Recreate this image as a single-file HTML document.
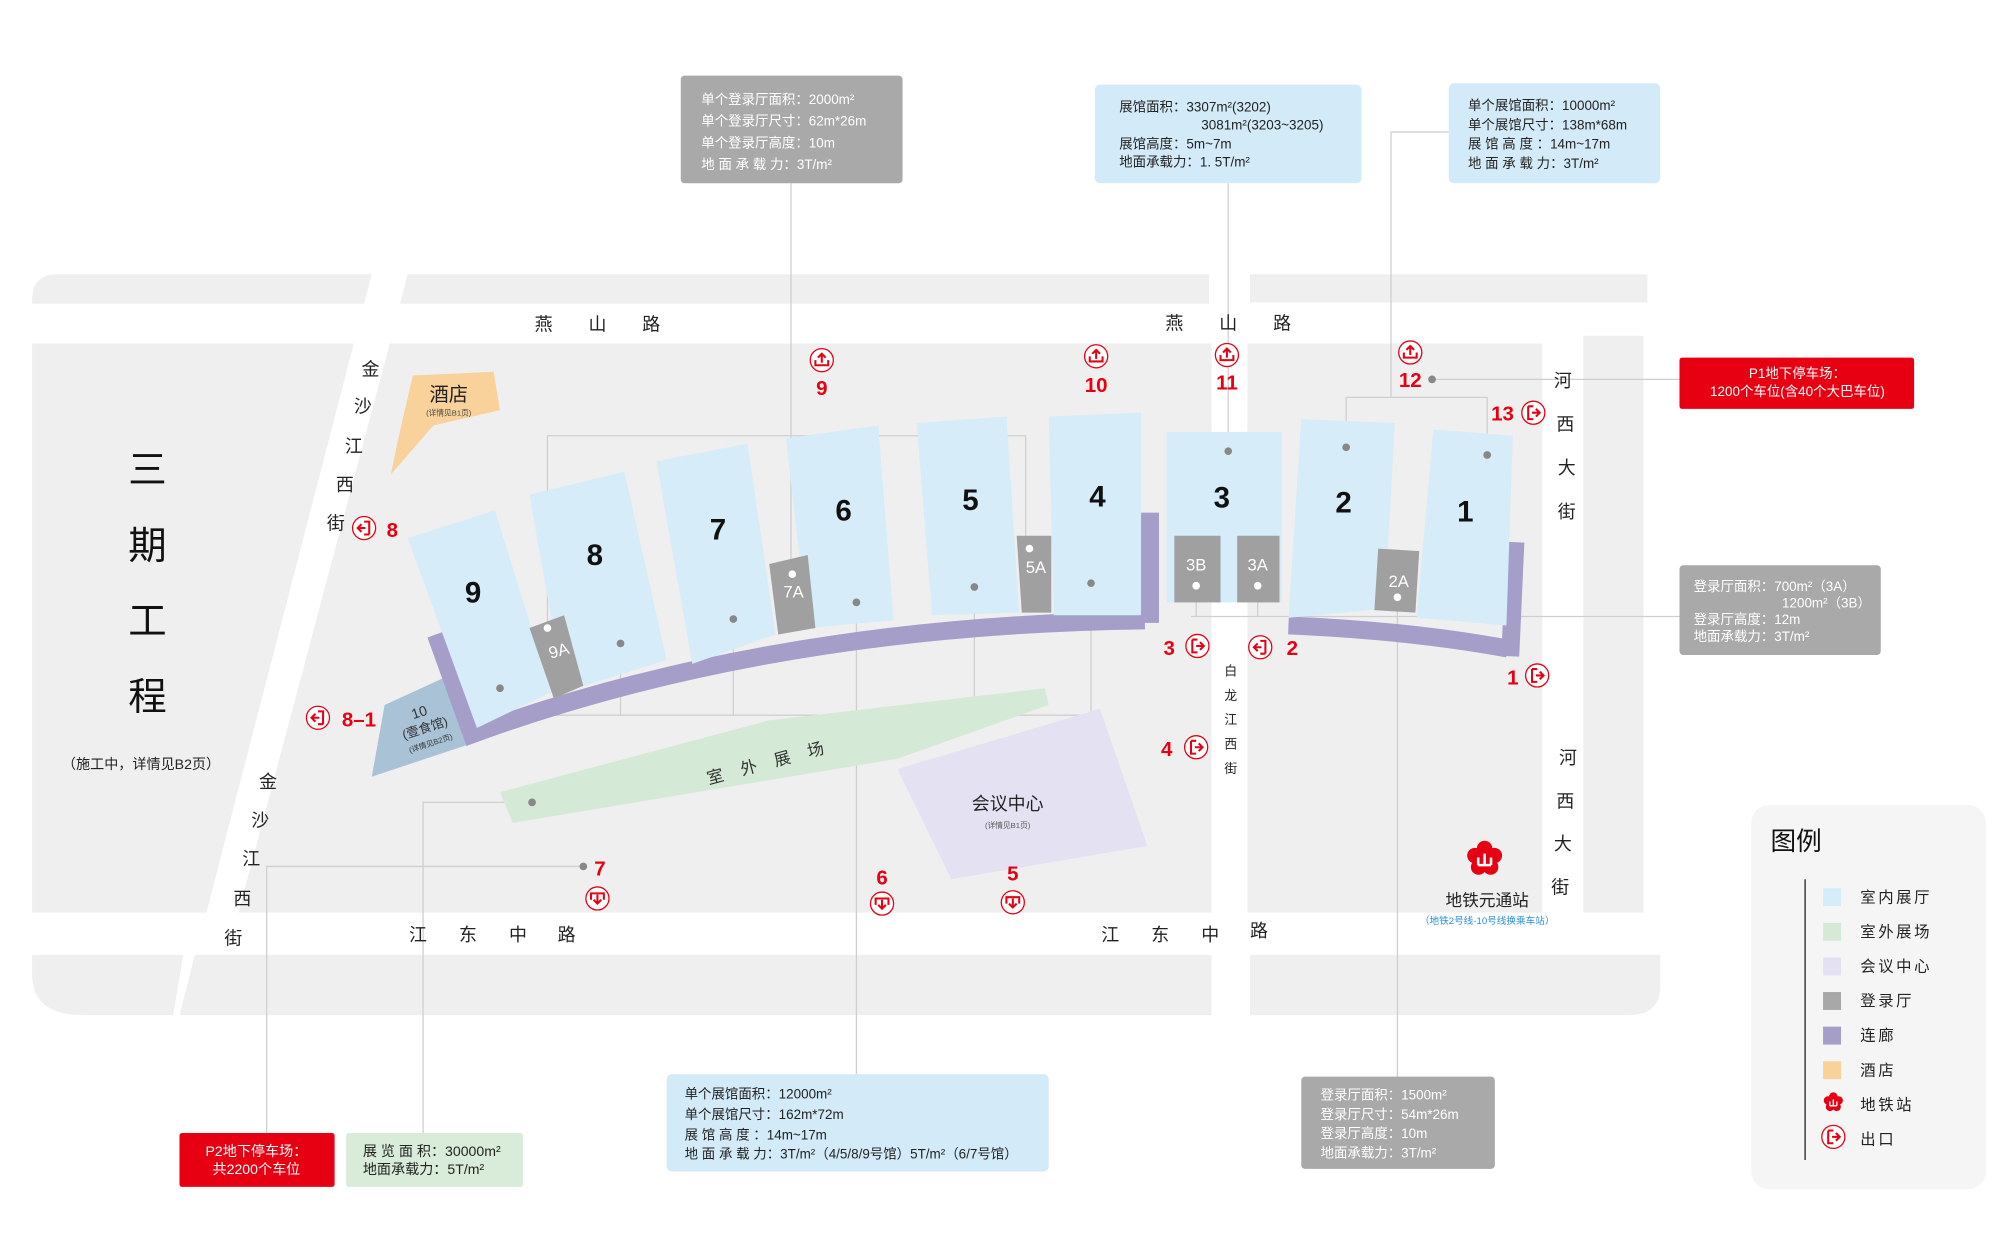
<!DOCTYPE html>
<html><head><meta charset="utf-8"><style>
html,body{margin:0;padding:0;background:#fff;}
svg{display:block;}
text{font-family:"Liberation Sans","Noto Sans CJK SC",sans-serif;}
</style></head><body>
<svg width="2000" height="1233" viewBox="0 0 1560 962" preserveAspectRatio="none" xmlns="http://www.w3.org/2000/svg">
<defs>
<g id="ex"><circle r="9" fill="#fff" stroke="#e60012" stroke-width="1"/><path d="M-4,-5 h4 M-4,-5 v10 h4" stroke="#e60012" stroke-width="1.6" fill="none"/><path d="M-1,0 h5 M2,-3 l3,3 -3,3" stroke="#e60012" stroke-width="1.6" fill="none"/></g>
<g id="up"><circle r="9" fill="#fff" stroke="#e60012" stroke-width="1"/><path d="M-5,0 v4 h10 v-4" stroke="#e60012" stroke-width="1.6" fill="none"/><path d="M0,2 v-7 M-3,-2 l3,-3 3,3" stroke="#e60012" stroke-width="1.6" fill="none"/></g>
<g id="dn"><circle r="9" fill="#fff" stroke="#e60012" stroke-width="1"/><path d="M-5,1 v-5 h10 v5" stroke="#e60012" stroke-width="1.6" fill="none"/><path d="M0,-3 v7 M-3,1 l3,3 3,-3" stroke="#e60012" stroke-width="1.6" fill="none"/></g>
</defs>
<!-- ground -->
<g fill="#efefef">
<path d="M45,214 L290,214 L284,237 L25,237 L25,234 Q25,214 45,214Z"/>
<polygon points="318,214 943,214 943,237 312,237"/>
<rect x="975" y="214" width="310" height="22"/>
<polygon points="25,268 276,268 161,712 25,712"/>
<polygon points="304,268 945,268 945,712 186,712"/>
<polygon points="973,268 1203,268 1203,712 973,712"/>
<rect x="1235" y="262" width="47" height="450"/>
<path d="M25,745 L143,745 L135,792 L65,792 Q25,792 25,760Z"/>
<polygon points="152,745 945,745 945,792 140,792"/>
<path d="M975,745 L1295,745 L1295,770 Q1295,792 1270,792 L975,792Z"/>
</g>
<!-- connector lines -->
<g stroke="#cfcfcf" stroke-width="1" fill="none">
<path d="M427,490 V340 H800 V425"/>
<path d="M617,143 V448"/>
<path d="M390,537 V558 M484,502 V558 M572,483 V558 M760,458 V558 M851,455 V558 M425,558 H851"/>
<path d="M668,470 V838"/>
<path d="M415,626 H330 V885"/>
<path d="M455,676 H208 V885"/>
<path d="M958,143 V352"/>
<path d="M1130,103 H1085 V310 M1050,349 V310 H1160 V355"/>
<path d="M1117,296 H1310"/>
<path d="M933,457 V481 M981,457 V481 M929,481 H1310"/>
<path d="M1090,466 V840"/>
</g>
<!-- hotel -->
<polygon points="322,293 385,290 390,320 338,332 305,370 310,345" fill="#f8d29a"/>
<text x="350" y="313" font-size="15" text-anchor="middle" fill="#222">酒店</text>
<text x="350" y="324" font-size="6" text-anchor="middle" fill="#444">(详情见B1页)</text>
<!-- outdoor -->
<polygon points="390,618 600,562 815,537 818,550 700,592 400,642" fill="#d5ead6"/>
<text x="605" y="598" font-size="13" text-anchor="middle" fill="#333" letter-spacing="14" transform="rotate(-15 605 598)">室外展场</text>
<!-- meeting -->
<polygon points="700,600 858,553 895,660 742,686" fill="#e4e2f2"/>
<text x="786" y="632" font-size="14" text-anchor="middle" fill="#222">会议中心</text>
<text x="786" y="646" font-size="6" text-anchor="middle" fill="#555">(详情见B1页)</text>
<!-- hall 10 -->
<polygon points="300,550 348,528 368,580 290,606" fill="#a9c2d6"/>
<text x="330" y="559" font-size="11" text-anchor="middle" fill="#333" transform="rotate(-18 330 565)">10</text>
<text x="332" y="572" font-size="10" text-anchor="middle" fill="#333" transform="rotate(-18 330 570)">(壹食馆)</text>
<text x="336" y="582" font-size="6" text-anchor="middle" fill="#333" transform="rotate(-18 336 580)">(详情见B2页)</text>
<!-- corridor -->
<g fill="none" stroke="#a49ec9" stroke-width="14">
<path d="M340,495 L368,573 Q600,488 893,484"/>
<path d="M897,400 V486"/>
<path d="M1005,488 Q1100,492 1176,506"/>
<path d="M1182,423 L1178,512"/>
</g>
<!-- halls -->
<g fill="#d6ecf8">
<polygon points="318,420 386,398 430,540 372,568"/>
<polygon points="413,386 487,368 520,515 440,540"/>
<polygon points="512,360 583,346 605,495 540,518"/>
<polygon points="613,342 685,332 697,484 630,490"/>
<polygon points="715,330 785,325 795,478 727,480"/>
<polygon points="818,325 890,322 890,480 822,480"/>
<rect x="910" y="337" width="90" height="133"/>
<polygon points="1015,327 1088,330 1080,475 1005,482"/>
<polygon points="1118,335 1180,340 1175,488 1105,482"/>
</g>
<g fill="#a0a0a0">
<polygon points="413,490 440,480 455,535 432,545"/>
<polygon points="600,440 630,433 636,490 607,495"/>
<polygon points="793,418 820,418 820,478 797,478"/>
<rect x="916" y="418" width="36" height="52"/>
<rect x="965" y="418" width="33" height="52"/>
<polygon points="1075,428 1107,430 1104,478 1072,476"/>
</g>
<g font-size="13" fill="#fff" text-anchor="middle">
<text x="436" y="512" transform="rotate(-15 436 508)">9A</text>
<text x="619" y="466">7A</text>
<text x="808" y="447">5A</text>
<text x="933" y="445">3B</text>
<text x="981" y="445">3A</text>
<text x="1091" y="458">2A</text>
</g>
<g fill="#fff"><circle cx="427" cy="490" r="3"/><circle cx="618" cy="448" r="3"/><circle cx="803" cy="428" r="3"/><circle cx="933" cy="457" r="3"/><circle cx="981" cy="457" r="3"/><circle cx="1090" cy="466" r="3"/></g>
<g fill="#888"><circle cx="390" cy="537" r="3"/><circle cx="484" cy="502" r="3"/><circle cx="572" cy="483" r="3"/><circle cx="668" cy="470" r="3"/><circle cx="760" cy="458" r="3"/><circle cx="851" cy="455" r="3"/><circle cx="958" cy="352" r="3"/><circle cx="1050" cy="349" r="3"/><circle cx="1160" cy="355" r="3"/><circle cx="415" cy="626" r="3"/><circle cx="455" cy="676" r="3"/><circle cx="1117" cy="296" r="3"/></g>
<g font-size="23" font-weight="bold" fill="#111" text-anchor="middle">
<text x="369" y="470">9</text><text x="464" y="441">8</text><text x="560" y="421">7</text><text x="658" y="406">6</text><text x="757" y="398">5</text><text x="856" y="395">4</text><text x="953" y="396">3</text><text x="1048" y="400">2</text><text x="1143" y="407">1</text>
</g>
<!-- road labels -->
<g font-size="14" fill="#222" text-anchor="middle">
<text x="424" y="258">燕</text><text x="466" y="258">山</text><text x="508" y="258">路</text>
<text x="916" y="257">燕</text><text x="958" y="257">山</text><text x="1000" y="257">路</text>
<text x="326" y="734">江</text><text x="365" y="734">东</text><text x="404" y="734">中</text><text x="442" y="734">路</text>
<text x="866" y="734">江</text><text x="905" y="734">东</text><text x="944" y="734">中</text><text x="982" y="731">路</text>
<text x="289" y="293">金</text><text x="283" y="322">沙</text><text x="276" y="353">江</text><text x="269" y="383">西</text><text x="262" y="413">街</text>
<text x="209" y="615">金</text><text x="203" y="645">沙</text><text x="196" y="675">江</text><text x="189" y="706">西</text><text x="182" y="737">街</text>
<text x="1219" y="302">河</text><text x="1221" y="336">西</text><text x="1222" y="370">大</text><text x="1222" y="404">街</text>
<text x="1223" y="596">河</text><text x="1221" y="630">西</text><text x="1219" y="663">大</text><text x="1217" y="697">街</text>
</g>
<g font-size="10" fill="#222" text-anchor="middle">
<text x="960" y="527">白</text><text x="960" y="546">龙</text><text x="960" y="565">江</text><text x="960" y="584">西</text><text x="960" y="603">街</text>
</g>
<g font-size="30" fill="#111" text-anchor="middle">
<text x="115" y="377">三</text><text x="115" y="436">期</text><text x="115" y="495">工</text><text x="115" y="554">程</text>
</g>
<text x="110" y="600" font-size="11" text-anchor="middle" fill="#222">（施工中，详情见B2页）</text>
<!-- exits -->
<g>
<use href="#up" x="641" y="281"/><use href="#up" x="855" y="278"/><use href="#up" x="957" y="277"/><use href="#up" x="1100" y="275"/>
<use href="#ex" x="1196" y="322"/><use href="#ex" x="284" y="412" transform="rotate(180 284 412)"/><use href="#ex" x="248" y="560" transform="rotate(180 248 560)"/>
<use href="#ex" x="934" y="504"/><use href="#ex" x="983" y="505" transform="rotate(180 983 505)"/><use href="#ex" x="1199" y="527"/><use href="#ex" x="933" y="583"/>
<use href="#dn" x="466" y="701"/><use href="#dn" x="688" y="705"/><use href="#dn" x="790" y="704"/>
</g>
<g font-size="16" font-weight="bold" fill="#e60012" text-anchor="middle">
<text x="641" y="308">9</text><text x="855" y="306">10</text><text x="957" y="304">11</text><text x="1100" y="302">12</text>
<text x="1172" y="328">13</text><text x="306" y="419">8</text><text x="280" y="567">8–1</text>
<text x="912" y="511">3</text><text x="1008" y="511">2</text><text x="1180" y="534">1</text><text x="910" y="590">4</text>
<text x="468" y="683">7</text><text x="688" y="690">6</text><text x="790" y="687">5</text>
</g>
<!-- metro -->
<g transform="translate(1158,670)">
<g fill="#e60012"><circle cx="0" cy="-8" r="6"/><circle cx="7.6" cy="-2.5" r="6"/><circle cx="4.7" cy="6.5" r="6"/><circle cx="-4.7" cy="6.5" r="6"/><circle cx="-7.6" cy="-2.5" r="6"/><circle r="8"/></g>
<path d="M-5,5 V-1 M0,5 V-4 M5,5 V-1 M-5,5 H5" stroke="#fff" stroke-width="2" fill="none"/>
</g>
<text x="1160" y="707" font-size="13" text-anchor="middle" fill="#222">地铁元通站</text>
<text x="1160" y="721" font-size="7.5" text-anchor="middle" fill="#2b8fd6">（地铁2号线-10号线换乘车站）</text>
<!-- callouts -->
<rect x="531" y="59" width="173" height="84" rx="3" fill="#a9a9a9"/>
<g font-size="10.5" fill="#fff"><text x="547" y="81">单个登录厅面积：2000m²</text><text x="547" y="98">单个登录厅尺寸：62m*26m</text><text x="547" y="115">单个登录厅高度：10m</text><text x="547" y="132">地 面 承 载 力：3T/m²</text></g>
<rect x="854" y="66" width="208" height="77" rx="4" fill="#d3ebf9"/>
<g font-size="10.5" fill="#222"><text x="873" y="87">展馆面积：3307m²(3202)</text><text x="937" y="101">3081m²(3203~3205)</text><text x="873" y="116">展馆高度：5m~7m</text><text x="873" y="130">地面承载力：1. 5T/m²</text></g>
<rect x="1130" y="65" width="165" height="78" rx="4" fill="#d3ebf9"/>
<g font-size="10.5" fill="#222"><text x="1145" y="86">单个展馆面积：10000m²</text><text x="1145" y="101">单个展馆尺寸：138m*68m</text><text x="1145" y="116">展 馆 高 度 ：14m~17m</text><text x="1145" y="131">地 面 承 载 力：3T/m²</text></g>
<rect x="1310" y="279" width="183" height="40" rx="2" fill="#e60012"/>
<g font-size="10.5" fill="#fff" text-anchor="middle"><text x="1402" y="295">P1地下停车场：</text><text x="1402" y="309">1200个车位(含40个大巴车位)</text></g>
<rect x="1310" y="441" width="157" height="70" rx="3" fill="#a9a9a9"/>
<g font-size="10.5" fill="#fff"><text x="1321" y="461">登录厅面积：700m²（3A）</text><text x="1390" y="474">1200m²（3B）</text><text x="1321" y="487">登录厅高度：12m</text><text x="1321" y="500">地面承载力：3T/m²</text></g>
<rect x="520" y="838" width="298" height="76" rx="4" fill="#d3ebf9"/>
<g font-size="10.5" fill="#222"><text x="534" y="857">单个展馆面积：12000m²</text><text x="534" y="873">单个展馆尺寸：162m*72m</text><text x="534" y="889">展 馆 高 度 ：14m~17m</text><text x="534" y="904">地 面 承 载 力：3T/m²（4/5/8/9号馆）5T/m²（6/7号馆）</text></g>
<rect x="1015" y="840" width="151" height="72" rx="3" fill="#a9a9a9"/>
<g font-size="10.5" fill="#fff"><text x="1030" y="858">登录厅面积：1500m²</text><text x="1030" y="873">登录厅尺寸：54m*26m</text><text x="1030" y="888">登录厅高度：10m</text><text x="1030" y="903">地面承载力：3T/m²</text></g>
<rect x="140" y="884" width="121" height="42" rx="2" fill="#e60012"/>
<g font-size="11" fill="#fff" text-anchor="middle"><text x="200" y="902">P2地下停车场：</text><text x="200" y="916">共2200个车位</text></g>
<rect x="270" y="884" width="138" height="42" rx="2" fill="#d9ecd9"/>
<g font-size="11" fill="#222"><text x="283" y="902">展 览 面 积：30000m²</text><text x="283" y="916">地面承载力：5T/m²</text></g>
<!-- legend -->
<rect x="1366" y="628" width="183" height="300" rx="14" fill="#f5f5f5"/>
<text x="1381" y="663" font-size="20" fill="#111">图例</text>
<line x1="1408" y1="686" x2="1408" y2="905" stroke="#444" stroke-width="1.2"/>
<rect x="1422" y="693" width="14" height="14" fill="#d6ecf8"/>
<rect x="1422" y="720" width="14" height="14" fill="#d5ead6"/>
<rect x="1422" y="747" width="14" height="14" fill="#e4e2f2"/>
<rect x="1422" y="774" width="14" height="14" fill="#a8a8a8"/>
<rect x="1422" y="801" width="14" height="14" fill="#a49ec9"/>
<rect x="1422" y="828" width="14" height="14" fill="#f8d29a"/>
<g transform="translate(1430,860) scale(0.55)"><g fill="#e60012"><circle cx="0" cy="-8" r="6"/><circle cx="7.6" cy="-2.5" r="6"/><circle cx="4.7" cy="6.5" r="6"/><circle cx="-4.7" cy="6.5" r="6"/><circle cx="-7.6" cy="-2.5" r="6"/><circle r="8"/></g><path d="M-5,5 V-1 M0,5 V-4 M5,5 V-1 M-5,5 H5" stroke="#fff" stroke-width="2" fill="none"/></g>
<use href="#ex" x="1430" y="887"/>
<g font-size="12" fill="#222" letter-spacing="2"><text x="1451" y="704">室内展厅</text><text x="1451" y="731">室外展场</text><text x="1451" y="758">会议中心</text><text x="1451" y="785">登录厅</text><text x="1451" y="812">连廊</text><text x="1451" y="839">酒店</text><text x="1451" y="866">地铁站</text><text x="1451" y="893">出口</text></g>
</svg>
</body></html>
